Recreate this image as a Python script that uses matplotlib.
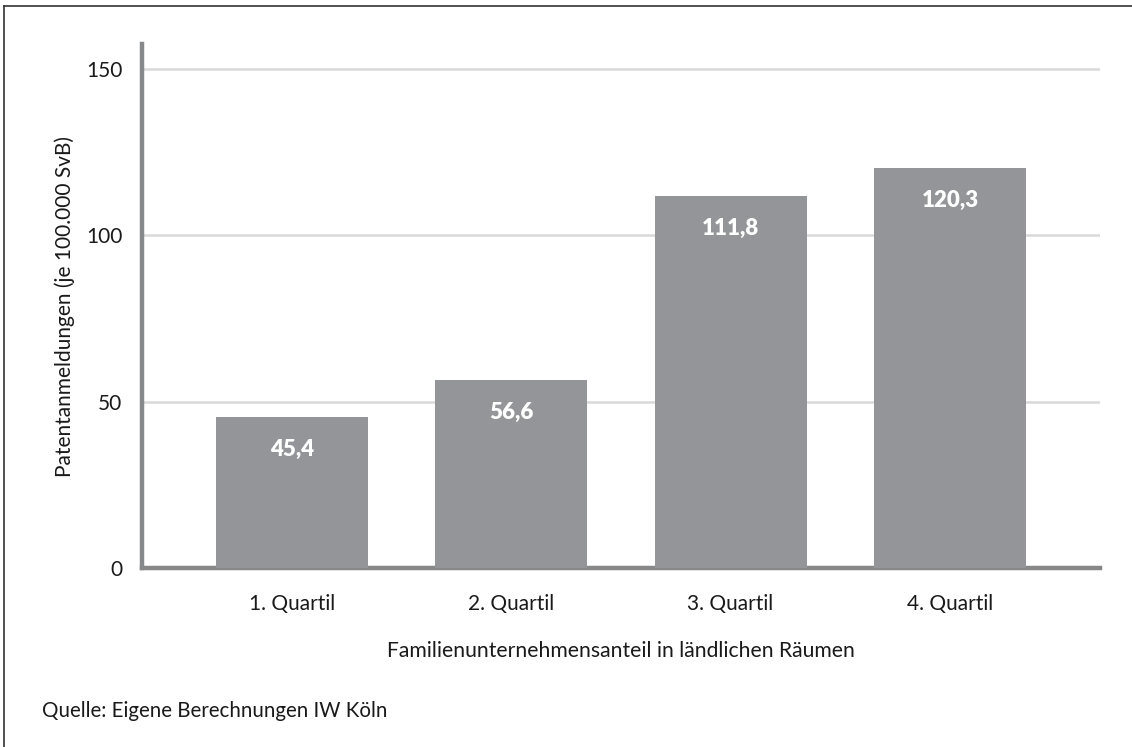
import matplotlib.pyplot as plt
from matplotlib.lines import Line2D

# Data
categories = ["1. Quartil", "2. Quartil", "3. Quartil", "4. Quartil"]
values = [45.4, 56.6, 111.8, 120.3]
value_labels = ["45,4", "56,6", "111,8", "120,3"]
yticks = [0, 50, 100, 150]

plt.rcParams["font.family"] = ["Lato", "DejaVu Sans"]

fig = plt.figure(figsize=(11.32, 7.47), dpi=100)
ax = fig.add_axes([0.1254, 0.2396, 0.9717 - 0.1254, 0.9411 - 0.2396])

x = range(len(categories))
ax.bar(x, values, width=0.693, color="#939598", zorder=3)

for xi, v, lab in zip(x, values, value_labels):
    ax.text(xi, v - 9.8, lab, ha="center", va="center", color="white",
            fontsize=16, fontweight="heavy", zorder=4)

ax.set_xlim(-0.684, 3.684)
ax.set_ylim(0, 157.5)
ax.set_yticks(yticks)
ax.set_xticks(list(x))
ax.set_xticklabels(categories)
ax.yaxis.grid(True, color="#d9d9d9", linewidth=1.8, zorder=0)
ax.tick_params(axis="both", length=0, labelsize=15, colors="#1a1a1a")
ax.tick_params(axis="x", pad=19)
ax.tick_params(axis="y", pad=14)

for side in ["top", "right"]:
    ax.spines[side].set_visible(False)
for side in ["left", "bottom"]:
    ax.spines[side].set_color("#87888a")
    ax.spines[side].set_linewidth(3.2)

ax.set_xlabel("Familienunternehmensanteil in ländlichen Räumen", fontsize=15.2,
              labelpad=19, color="#1a1a1a")
ax.set_ylabel("Patentanmeldungen (je 100.000 SvB)", fontsize=15,
              labelpad=8, color="#1a1a1a")

fig.text(42 / 1132, 1 - 711 / 747, "Quelle: Eigene Berechnungen IW Köln",
         fontsize=14.8, va="center", ha="left", color="#1a1a1a")

# Frame lines (top and left)
fig.add_artist(Line2D([4 / 1132, 1], [1 - 6 / 747, 1 - 6 / 747],
                      color="#333333", linewidth=1.2, transform=fig.transFigure))
fig.add_artist(Line2D([4 / 1132, 4 / 1132], [0, 1 - 6 / 747],
                      color="#333333", linewidth=1.2, transform=fig.transFigure))

plt.savefig("out.png", dpi=100)
